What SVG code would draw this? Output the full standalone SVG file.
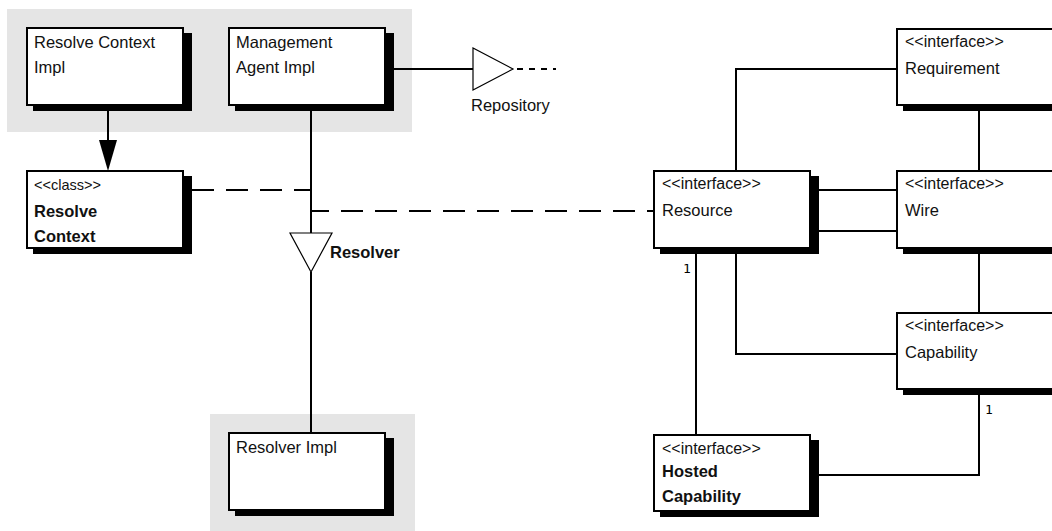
<svg xmlns="http://www.w3.org/2000/svg" width="1052" height="531" viewBox="0 0 1052 531">
<style>
.bg{fill:#e5e5e5}
.sh{fill:#000}
.box{fill:#fff;stroke:#000;stroke-width:2}
.t{font-family:"Liberation Sans",Arial,sans-serif;font-size:16.5px;fill:#111}
.st{font-family:"Liberation Sans",Arial,sans-serif;font-size:16px;fill:#111}
.b{font-weight:bold}
.ln{fill:none;stroke:#000;stroke-width:2}
.dash{fill:none;stroke:#000;stroke-width:2;stroke-dasharray:22 12}
.dot{fill:none;stroke:#000;stroke-width:2;stroke-dasharray:6 6}
.tri{fill:#fff;stroke:#000;stroke-width:1.2}
.m{font-family:"DejaVu Sans Mono","Liberation Mono",monospace;font-size:13px;fill:#000}
</style>
<rect class="bg" x="7" y="9" width="405" height="123"/>
<rect class="bg" x="210" y="414" width="205" height="117"/>

<g id="connectors">
  <line class="ln" x1="108" y1="105" x2="108" y2="142"/>
  <polygon points="99,140 117,140 108,171" fill="#000"/>
  <line class="ln" x1="311" y1="105" x2="311" y2="233"/>
  <line class="ln" x1="311" y1="272" x2="311" y2="433"/>
  <polyline class="dash" points="192,190 311,190 311,211 654,211"/>
  <line class="ln" x1="385" y1="69" x2="473" y2="69"/>
  <line class="dot" x1="517" y1="69" x2="556" y2="69"/>
  <polyline class="ln" points="736,171 736,69 897,69"/>
  <line class="ln" x1="979" y1="110" x2="979" y2="171"/>
  <line class="ln" x1="818" y1="190" x2="897" y2="190"/>
  <line class="ln" x1="818" y1="231" x2="897" y2="231"/>
  <line class="ln" x1="979" y1="252" x2="979" y2="313"/>
  <polyline class="ln" points="736,253 736,354 897,354"/>
  <line class="ln" x1="696" y1="253" x2="696" y2="435"/>
  <polyline class="ln" points="979,395 979,475 818,475"/>
  <text class="m" x="683" y="273">1</text>
  <text class="m" x="985" y="414">1</text>
</g>

<g id="resolver-iface">
  <polygon class="tri" points="290,233 332,233 311,272"/>
  <text class="t b" x="330" y="258">Resolver</text>
</g>
<g id="repository-iface">
  <polygon class="tri" points="473,48 473,90 513,69"/>
  <text class="t" x="471" y="111">Repository</text>
</g>

<g id="resolve-context-impl">
  <rect class="sh" x="33" y="33" width="159" height="78"/>
  <rect class="box" x="27" y="28" width="156" height="77"/>
  <text class="t" x="34" y="48">Resolve Context</text>
  <text class="t" x="34" y="73">Impl</text>
</g>
<g id="management-agent-impl">
  <rect class="sh" x="235" y="33" width="159" height="78"/>
  <rect class="box" x="229" y="28" width="156" height="77"/>
  <text class="t" x="236" y="48">Management</text>
  <text class="t" x="236" y="73">Agent Impl</text>
</g>
<g id="resolve-context">
  <rect class="sh" x="33" y="176" width="159" height="78"/>
  <rect class="box" x="27" y="171" width="156" height="77"/>
  <text class="st" x="34" y="190" style="font-size:14.5px">&lt;&lt;class&gt;&gt;</text>
  <text class="t b" x="34" y="217">Resolve</text>
  <text class="t b" x="34" y="242">Context</text>
</g>
<g id="resolver-impl">
  <rect class="sh" x="235" y="438" width="159" height="78"/>
  <rect class="box" x="229" y="433" width="156" height="77"/>
  <text class="t" x="236" y="453">Resolver Impl</text>
</g>
<g id="resource">
  <rect class="sh" x="660" y="176" width="159" height="78"/>
  <rect class="box" x="654" y="171" width="156" height="77"/>
  <text class="st" x="662" y="189">&lt;&lt;interface&gt;&gt;</text>
  <text class="t" x="662" y="216">Resource</text>
</g>
<g id="requirement">
  <rect class="sh" x="903" y="34" width="159" height="77"/>
  <rect class="box" x="897" y="29" width="165" height="76"/>
  <text class="st" x="905" y="47">&lt;&lt;interface&gt;&gt;</text>
  <text class="t" x="905" y="74">Requirement</text>
</g>
<g id="wire">
  <rect class="sh" x="903" y="176" width="159" height="78"/>
  <rect class="box" x="897" y="171" width="165" height="77"/>
  <text class="st" x="905" y="189">&lt;&lt;interface&gt;&gt;</text>
  <text class="t" x="905" y="216">Wire</text>
</g>
<g id="capability">
  <rect class="sh" x="903" y="318" width="159" height="77"/>
  <rect class="box" x="897" y="313" width="165" height="76"/>
  <text class="st" x="905" y="331">&lt;&lt;interface&gt;&gt;</text>
  <text class="t" x="905" y="358">Capability</text>
</g>
<g id="hosted-capability">
  <rect class="sh" x="660" y="440" width="159" height="77"/>
  <rect class="box" x="654" y="435" width="156" height="76"/>
  <text class="st" x="662" y="454">&lt;&lt;interface&gt;&gt;</text>
  <text class="t b" x="662" y="477">Hosted</text>
  <text class="t b" x="662" y="502">Capability</text>
</g>
</svg>
